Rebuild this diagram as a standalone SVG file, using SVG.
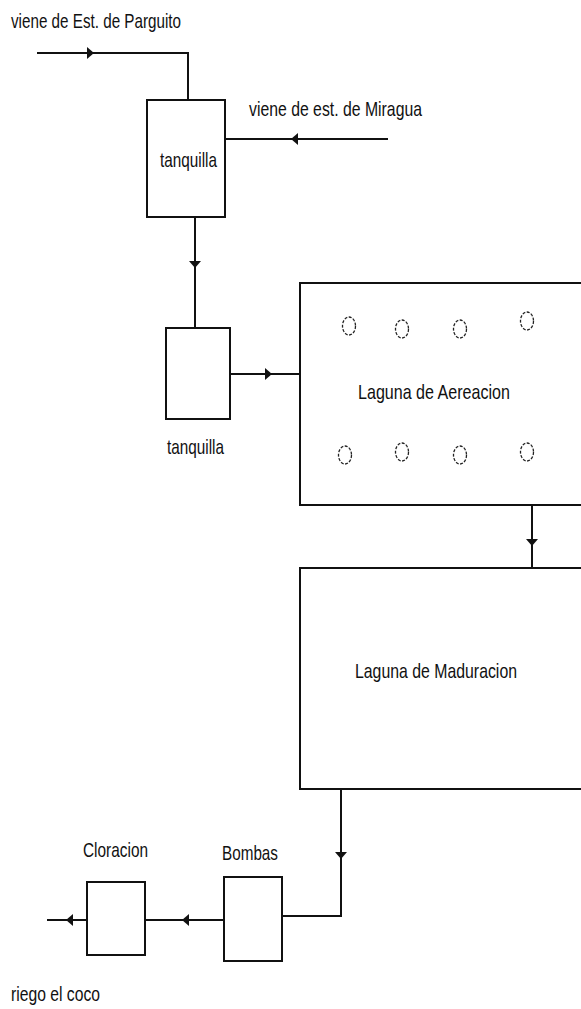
<svg xmlns="http://www.w3.org/2000/svg" width="581" height="1009" viewBox="0 0 581 1009">
<style>
.box{fill:#fff;stroke:#111;stroke-width:2}
.ln{fill:none;stroke:#111;stroke-width:2}
.t{font-family:"Liberation Sans",Arial,sans-serif;font-size:21px;fill:#111}
.bub{fill:none;stroke:#222;stroke-width:1.3;stroke-dasharray:3 1.5}
.ah{fill:#111}
</style>
<rect width="581" height="1009" fill="#fff"/>
<g id="connectors">
<polyline class="ln" points="37,53 188,53 188,100"/>
<polygon class="ah" points="87,47 94,53 87,59"/>
<polyline class="ln" points="388,139 225,139"/>
<polygon class="ah" points="298,133 291,139 298,145"/>
<polyline class="ln" points="195,217 195,328"/>
<polygon class="ah" points="189,261 201,261 195,268"/>
<polyline class="ln" points="230,374 300,374"/>
<polygon class="ah" points="265,368 272,374 265,380"/>
<polyline class="ln" points="532,505 532,568"/>
<polygon class="ah" points="526,539 538,539 532,546"/>
<polyline class="ln" points="341,789 341,916 282,916"/>
<polygon class="ah" points="335,852 347,852 341,859"/>
<polyline class="ln" points="224,920 145,920"/>
<polygon class="ah" points="189,914 182,920 189,926"/>
<polyline class="ln" points="87,920 47,920"/>
<polygon class="ah" points="73,914 66,920 73,926"/>
</g>
<g id="label-parguito"><text class="t" x="11" y="28" textLength="170" lengthAdjust="spacingAndGlyphs">viene de Est. de Parguito</text></g>
<g id="label-miragua"><text class="t" x="249" y="116" textLength="173" lengthAdjust="spacingAndGlyphs">viene de est. de Miragua</text></g>
<g id="tanquilla1">
<rect class="box" x="147" y="100" width="78" height="117"/>
<text class="t" x="160" y="167" textLength="57" lengthAdjust="spacingAndGlyphs">tanquilla</text>
</g>
<g id="tanquilla2">
<rect class="box" x="166" y="328" width="64" height="91"/>
<text class="t" x="167" y="454" textLength="57" lengthAdjust="spacingAndGlyphs">tanquilla</text>
</g>
<g id="laguna-aereacion">
<rect class="box" x="300" y="283" width="300" height="222"/>
<text class="t" x="358" y="399" textLength="152" lengthAdjust="spacingAndGlyphs">Laguna de Aereacion</text>
<ellipse class="bub" cx="349" cy="326" rx="6.5" ry="9"/>
<ellipse class="bub" cx="402" cy="329" rx="6.5" ry="9"/>
<ellipse class="bub" cx="460" cy="329" rx="6.5" ry="9"/>
<ellipse class="bub" cx="527" cy="321" rx="6.5" ry="9"/>
<ellipse class="bub" cx="345" cy="455" rx="6.5" ry="9"/>
<ellipse class="bub" cx="402" cy="452" rx="6.5" ry="9"/>
<ellipse class="bub" cx="460" cy="455" rx="6.5" ry="9"/>
<ellipse class="bub" cx="527" cy="452" rx="6.5" ry="9"/>
</g>
<g id="laguna-maduracion">
<rect class="box" x="300" y="568" width="300" height="221"/>
<text class="t" x="355" y="678" textLength="162" lengthAdjust="spacingAndGlyphs">Laguna de Maduracion</text>
</g>
<g id="bombas">
<rect class="box" x="224" y="877" width="58" height="84"/>
<text class="t" x="222" y="860" textLength="56" lengthAdjust="spacingAndGlyphs">Bombas</text>
</g>
<g id="cloracion">
<rect class="box" x="87" y="882" width="58" height="73"/>
<text class="t" x="83" y="857" textLength="65" lengthAdjust="spacingAndGlyphs">Cloracion</text>
</g>
<g id="label-riego"><text class="t" x="11" y="1001" textLength="89" lengthAdjust="spacingAndGlyphs">riego el coco</text></g>
</svg>
